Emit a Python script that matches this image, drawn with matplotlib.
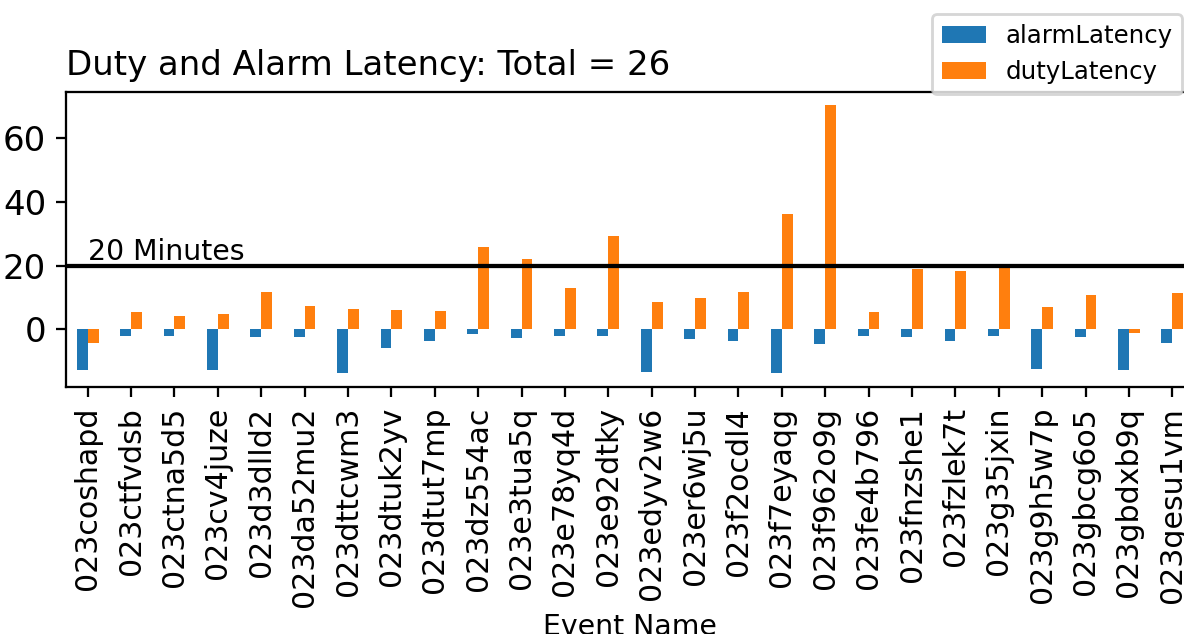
import numpy as np
import matplotlib
matplotlib.use("Agg")
from matplotlib import pyplot as plt
from matplotlib.ticker import MultipleLocator

events = ["023coshapd", "023ctfvdsb", "023ctna5d5", "023cv4juze", "023d3dlld2",
          "023da52mu2", "023dttcwm3", "023dtuk2yv", "023dtut7mp", "023dz554ac",
          "023e3tua5q", "023e78yq4d", "023e92dtky", "023edyv2w6", "023er6wj5u",
          "023f2ocdl4", "023f7eyaqg", "023f962o9g", "023fe4b796", "023fnzshe1",
          "023fzlek7t", "023g35jxin", "023g9h5w7p", "023gbcg6o5", "023gbdxb9q",
          "023gesu1vm"]
alarmLatency = [-12.9, -2.1, -2.0, -12.9, -2.4, -2.5, -13.7, -5.9, -3.7, -1.5,
                -2.8, -2.0, -2.1, -13.5, -3.0, -3.6, -13.9, -4.7, -2.1, -2.5,
                -3.6, -2.0, -12.6, -2.5, -12.7, -4.4]
dutyLatency = [-4.4, 5.4, 4.2, 4.9, 11.6, 7.2, 6.4, 5.9, 5.6, 25.8,
               22.0, 12.8, 29.3, 8.5, 9.9, 11.8, 36.3, 70.4, 5.3, 18.9,
               18.2, 19.7, 6.9, 10.7, -1.1, 11.4]
threshold = 20

dpi = 204
fig = plt.figure(figsize=(1184 / dpi, 634 / dpi), dpi=dpi)
ax = fig.add_axes([66 / 1184, 247 / 634, 1128 / 1184, 295 / 634])

x = np.arange(len(events))
w = 0.25
ax.bar(x - w / 2, alarmLatency, w, color="tab:blue", label="alarmLatency")
ax.bar(x + w / 2, dutyLatency, w, color="tab:orange", label="dutyLatency")
ax.set_xlim(-0.5, len(events) - 0.5)
ax.set_ylim(-18.2, 74.6)
ax.yaxis.set_major_locator(MultipleLocator(20))
ax.set_xticks(x)
ax.set_xticklabels(events, rotation=90, fontsize=10.6)
ax.tick_params(axis="y", labelsize=12)

ax.axhline(threshold, color="black")
ax.text(0, threshold, "20 Minutes", va="bottom", fontsize=10)

ax.set_title("Duty and Alarm Latency: Total = %d" % len(events), loc="left", fontsize=12)
ax.set_xlabel("Event Name", labelpad=2)
fig.legend(loc="upper right", bbox_to_anchor=(1182 / 1184, 1 - 14 / 634),
           borderaxespad=0, fontsize=8.6, handlelength=1.8)

fig.savefig("out.png", dpi=dpi)
